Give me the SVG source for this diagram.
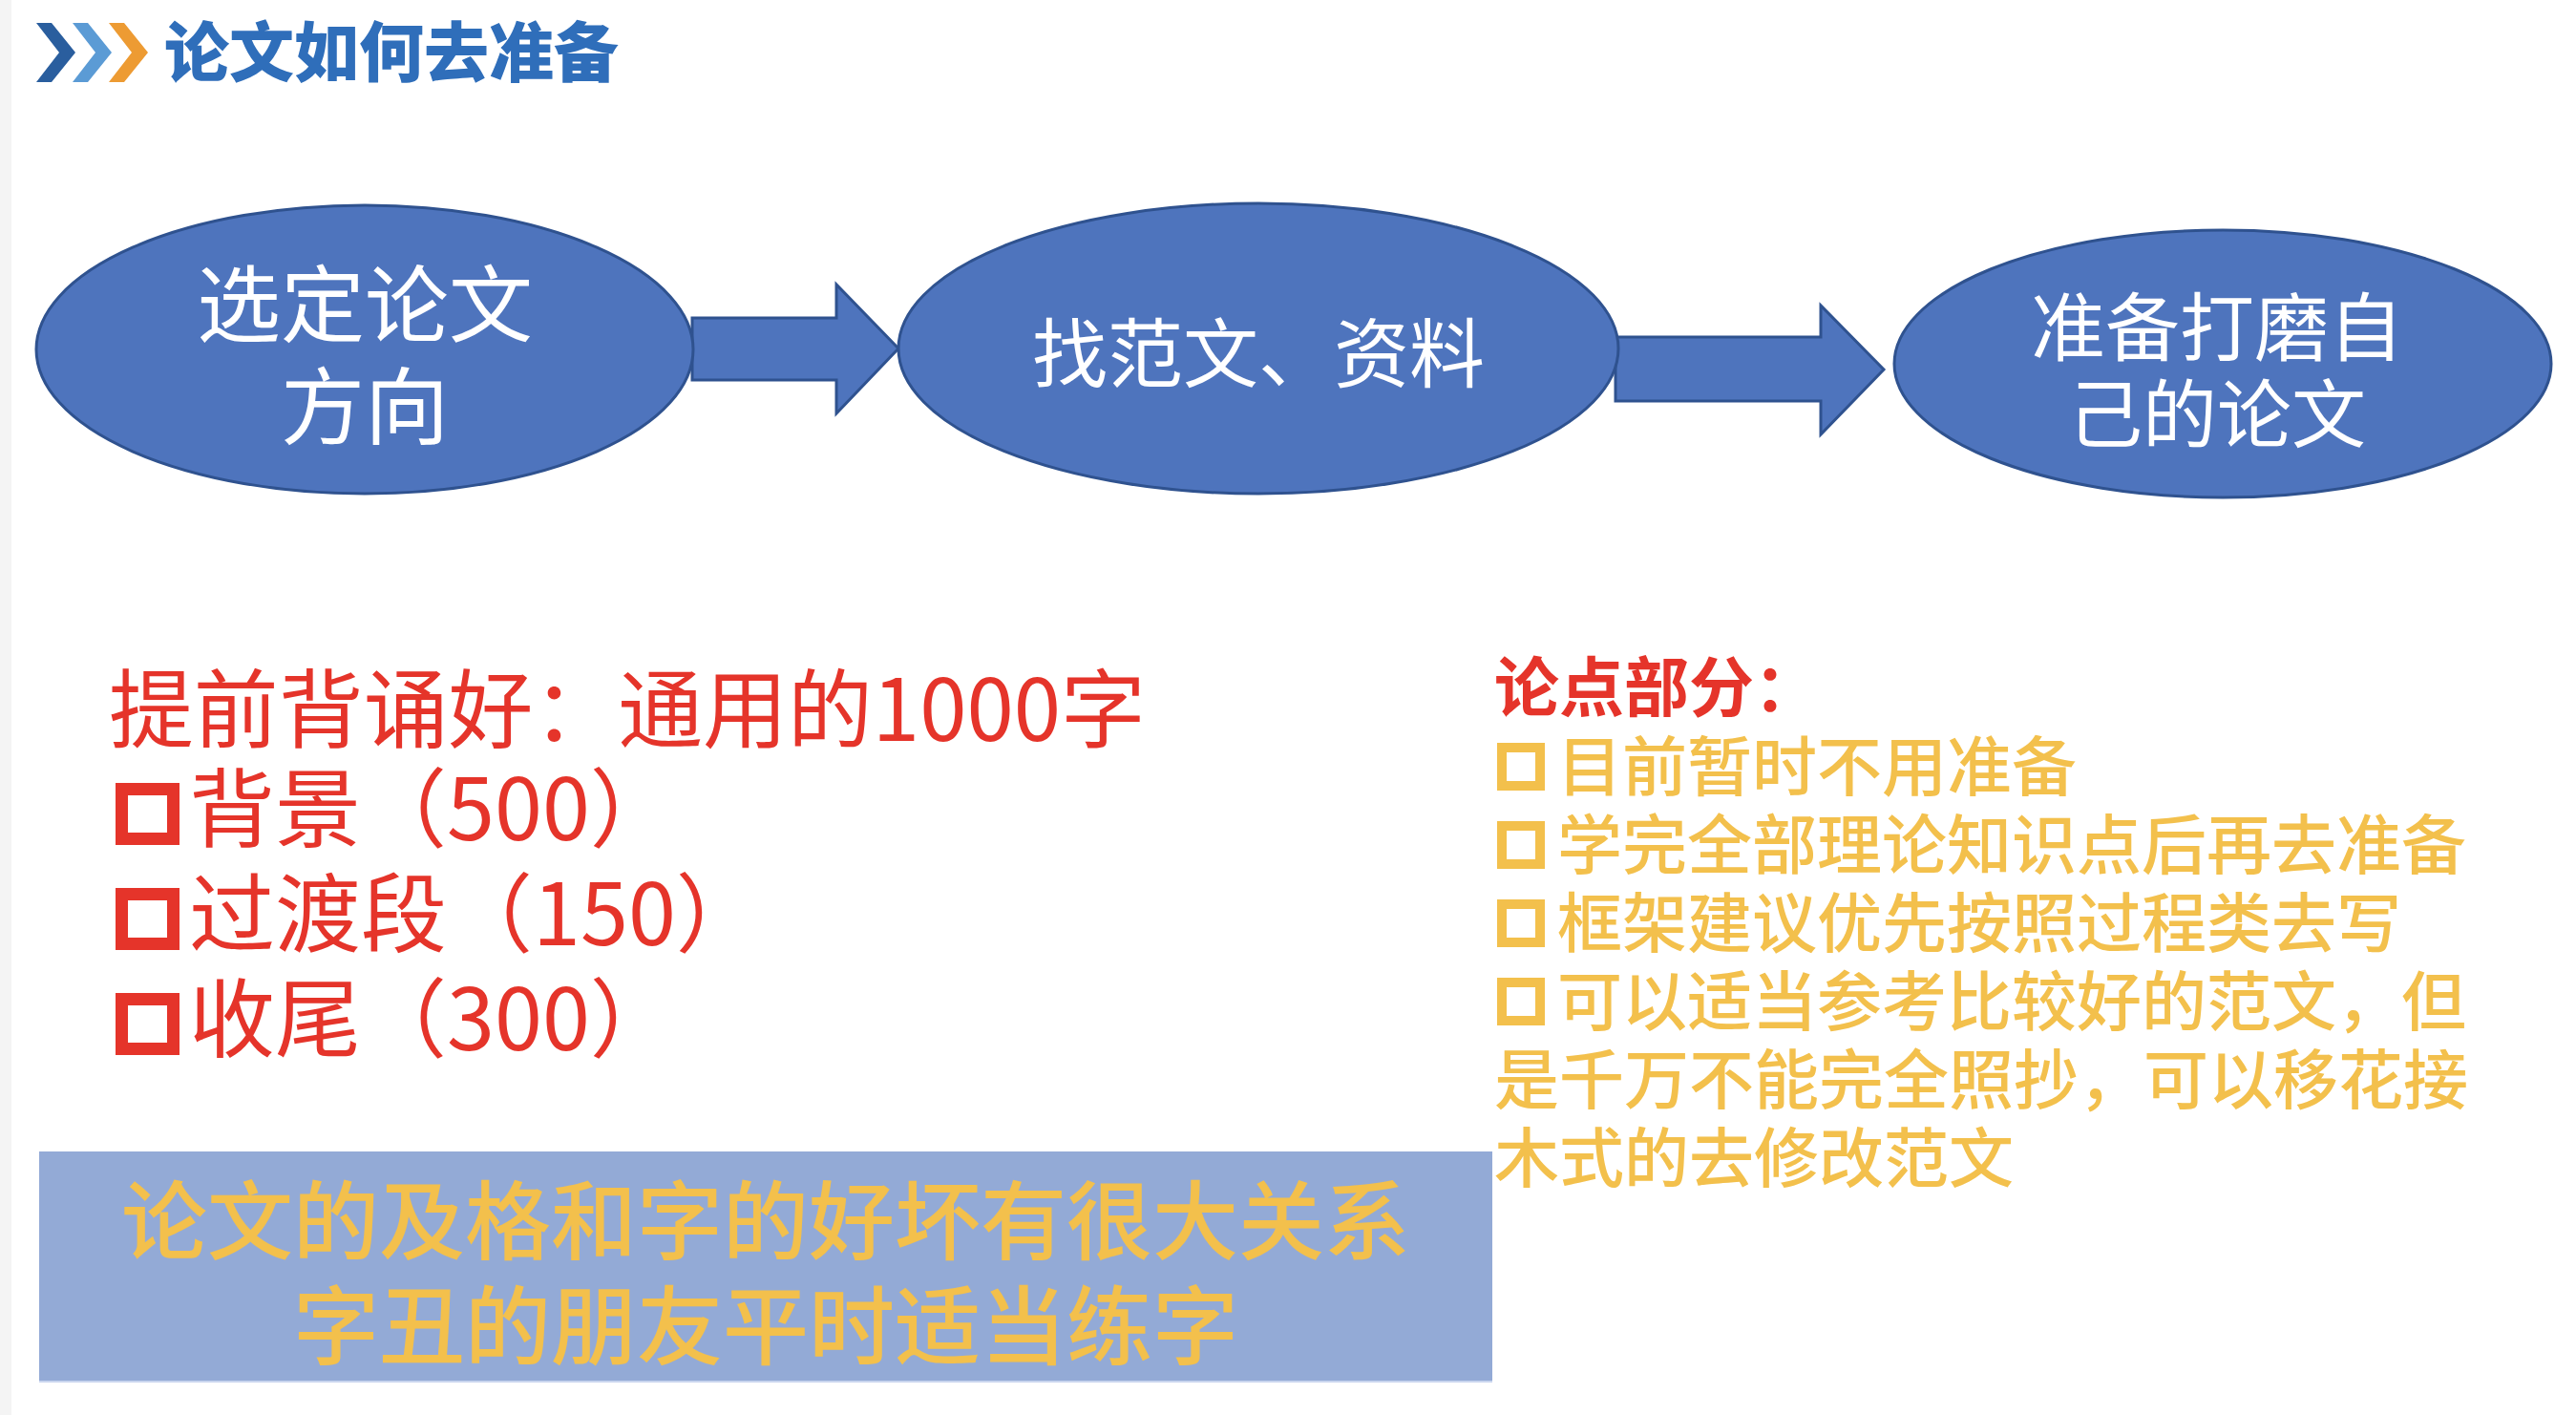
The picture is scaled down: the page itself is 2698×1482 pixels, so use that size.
<svg xmlns="http://www.w3.org/2000/svg" width="2698" height="1482" viewBox="0 0 2698 1482">
  <style>
    .node { fill: #4E74BD; stroke: #2F528F; stroke-width: 3; }
    .arrow { fill: #4E74BD; stroke: #2F528F; stroke-width: 3; stroke-linejoin: miter; }
    .ntext { fill: #FFFFFF; font-family: "Noto Sans CJK SC", "Noto Sans", sans-serif; text-anchor: middle; }
    .red { fill: #E5342A; font-family: "Noto Sans CJK SC", "Noto Sans", sans-serif; font-size: 90px; }
    .redbox { fill: none; stroke: #E5342A; stroke-width: 13; }
    .org { fill: #F3C04C; font-family: "Noto Sans CJK SC", "Noto Sans", sans-serif; font-size: 68px; font-weight: 500; }
    .orgbox { fill: none; stroke: #F3C04C; stroke-width: 10; }
    .boxtext { fill: #F3C04C; font-family: "Noto Sans CJK SC", "Noto Sans", sans-serif; font-size: 90px; font-weight: 500; text-anchor: middle; }
  </style>
  <rect x="0" y="0" width="2698" height="1482" fill="#FFFFFF"/>
  <rect x="0" y="0" width="12" height="1482" fill="#F4F4F4"/>

  <g id="title">
    <polygon points="38,24 54,24 79,55 54,86 38,86 62,55" fill="#2A5E9E"/>
    <polygon points="76,24 92,24 117,55 92,86 76,86 100,55" fill="#5B9BD5"/>
    <polygon points="114,24 130,24 155,55 130,86 114,86 138,55" fill="#ED9B33"/>
    <text x="172" y="80" fill="#2F6EBA" font-family="'Noto Sans CJK SC', sans-serif" font-size="68" font-weight="900">论文如何去准备</text>
  </g>

  <g id="connectors">
    <polygon class="arrow" points="725,333 876,333 876,298 941,365 876,433 876,398 725,398"/>
    <polygon class="arrow" points="1692,353 1907,353 1907,320 1973,387 1907,455 1907,420 1692,420"/>
  </g>

  <g id="node1">
    <ellipse class="node" cx="382" cy="366" rx="344" ry="151"/>
    <text class="ntext" x="382" y="351" font-size="88">选定论文</text>
    <text class="ntext" x="382" y="458" font-size="88">方向</text>
  </g>
  <g id="node2">
    <ellipse class="node" cx="1318" cy="365" rx="377" ry="152"/>
    <text class="ntext" x="1318" y="400" font-size="79">找范文、资料</text>
  </g>
  <g id="node3">
    <ellipse class="node" cx="2328" cy="381" rx="344" ry="140"/>
    <text class="ntext" x="2322" y="372" font-size="78">准备打磨自</text>
    <text class="ntext" x="2322" y="463" font-size="78">己的论文</text>
  </g>

  <g id="left-list">
    <text class="red" x="114" y="776" textLength="1086" lengthAdjust="spacingAndGlyphs">提前背诵好：通用的1000字</text>
    <rect class="redbox" x="127.5" y="826.5" width="54" height="52"/>
    <text class="red" x="198" y="880">背景（500）</text>
    <rect class="redbox" x="127.5" y="936.5" width="54" height="52"/>
    <text class="red" x="198" y="990">过渡段（150）</text>
    <rect class="redbox" x="127.5" y="1046.5" width="54" height="52"/>
    <text class="red" x="198" y="1100">收尾（300）</text>
  </g>

  <g id="right-list">
    <text x="1565" y="745" fill="#E5342A" font-family="'Noto Sans CJK SC', sans-serif" font-size="68" font-weight="700">论点部分：</text>
    <rect class="orgbox" x="1573" y="783" width="40" height="40"/>
    <text class="org" x="1631" y="828">目前暂时不用准备</text>
    <rect class="orgbox" x="1573" y="865" width="40" height="40"/>
    <text class="org" x="1631" y="910">学完全部理论知识点后再去准备</text>
    <rect class="orgbox" x="1573" y="947" width="40" height="40"/>
    <text class="org" x="1631" y="992">框架建议优先按照过程类去写</text>
    <rect class="orgbox" x="1573" y="1029" width="40" height="40"/>
    <text class="org" x="1631" y="1074">可以适当参考比较好的范文，但</text>
    <text class="org" x="1565" y="1156">是千万不能完全照抄，可以移花接</text>
    <text class="org" x="1565" y="1238">木式的去修改范文</text>
  </g>

  <g id="note-box">
    <rect x="41" y="1206" width="1522" height="241" fill="#93AAD6"/>
    <line x1="41" y1="1447" x2="1563" y2="1447" stroke="#C9D5EE" stroke-width="2"/>
    <text class="boxtext" x="802" y="1312">论文的及格和字的好坏有很大关系</text>
    <text class="boxtext" x="802" y="1422">字丑的朋友平时适当练字</text>
  </g>
</svg>
